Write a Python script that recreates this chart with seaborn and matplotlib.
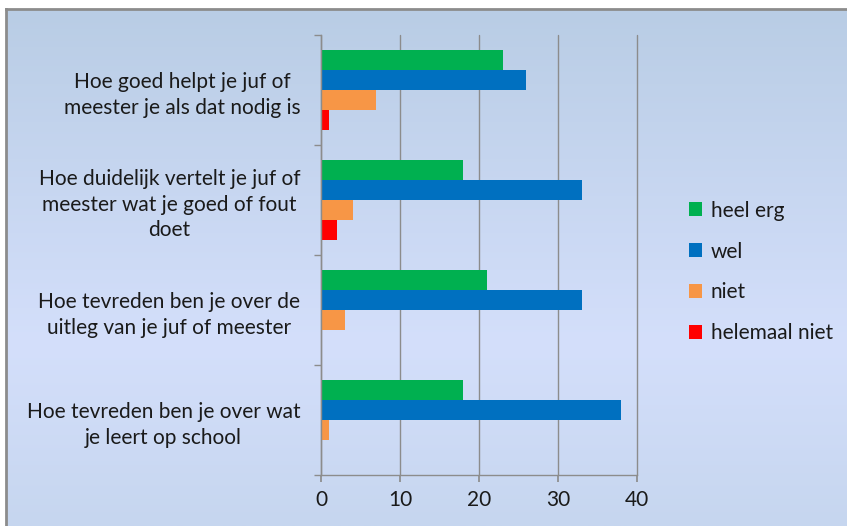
import numpy as np
import pandas as pd
import seaborn as sns
import matplotlib.pyplot as plt
from matplotlib.colors import LinearSegmentedColormap

# Survey questions (top to bottom) and answer categories
questions = [
    "Hoe goed helpt je juf of\nmeester je als dat nodig is",
    "Hoe duidelijk vertelt je juf of\nmeester wat je goed of fout\ndoet",
    "Hoe tevreden ben je over de\nuitleg van je juf of meester",
    "Hoe tevreden ben je over wat\nje leert op school",
]
answers = ["heel erg", "wel", "niet", "helemaal niet"]

heel_erg = [23, 18, 21, 18]
wel = [26, 33, 33, 38]
niet = [7, 4, 3, 1]
helemaal_niet = [1, 2, 0, 0]

x_ticks = [0, 10, 20, 30, 40]

colors = {"heel erg": "#00B050", "wel": "#0070C0", "niet": "#F79646", "helemaal niet": "#FF0000"}

rows = []
for vals, ans in zip([heel_erg, wel, niet, helemaal_niet], answers):
    for q, v in zip(questions, vals):
        rows.append({"vraag": q, "antwoord": ans, "aantal": v})
df = pd.DataFrame(rows)

sns.set_theme(style="white")
plt.rcParams['font.family'] = ['Lato', 'DejaVu Sans']

W, H = 847, 526
fig = plt.figure(figsize=(W / 100, H / 100), dpi=100)

# chart background with vertical gradient and gray border (top/left)
bg = fig.add_axes([6 / W, 0, 1 - 6 / W, 1 - 9 / H], zorder=0)
cmap = LinearSegmentedColormap.from_list(
    "bg", [(0, "#B9CDE5"), (0.65, "#D4DFFB"), (1.0, "#C6D6EF")])
grad = np.linspace(0, 1, 256).reshape(-1, 1)
bg.imshow(grad, aspect="auto", cmap=cmap, extent=[0, 1, 0, 1], origin="upper")
bg.set_xlim(0, 1)
bg.set_ylim(0, 1)
bg.set_xticks([])
bg.set_yticks([])
for side in ["right", "bottom"]:
    bg.spines[side].set_visible(False)
for side in ["top", "left"]:
    bg.spines[side].set_color("#8C8C8C")
    bg.spines[side].set_linewidth(2)

ax = fig.add_axes([321 / W, 1 - 475 / H, (637 - 321) / W, (475 - 35) / H], zorder=1)
ax.patch.set_alpha(0)

sns.barplot(data=df, y="vraag", x="aantal", hue="antwoord", hue_order=answers,
            order=questions, palette=colors, orient="h", width=0.73,
            saturation=1, linewidth=0, ax=ax, legend=True)

ax.set_xlim(0, 40)
ax.set_ylim(3.5, -0.5)
ax.set_xticks(x_ticks)
ax.set_xticklabels([str(t) for t in x_ticks], fontsize=15, color="#1a1a1a")
ax.xaxis.grid(True, color="#8C8C8C", linewidth=1)
for gl in ax.get_xgridlines():
    gl.set_clip_on(False)
ax.set_axisbelow(True)
ax.tick_params(axis="x", length=5, color="#8C8C8C", direction="out", pad=6, bottom=True)

ax.set_yticks(range(len(questions)))
ax.set_yticklabels(questions, fontsize=15, color="#1a1a1a", ha="right", ma="center",
                   linespacing=1.35)
ax.tick_params(axis="y", which="major", length=0, pad=15)
ax.set_yticks([-0.5, 0.5, 1.5, 2.5, 3.5], minor=True)
ax.tick_params(axis="y", which="minor", length=5, color="#8C8C8C", direction="out", left=True)

ax.set_xlabel("")
ax.set_ylabel("")
for side in ["top", "right"]:
    ax.spines[side].set_visible(False)
for side in ["left", "bottom"]:
    ax.spines[side].set_color("#8C8C8C")
    ax.spines[side].set_linewidth(1)

handles, labels = ax.get_legend_handles_labels()
ax.legend(handles, labels, loc="center left", bbox_to_anchor=(670 / W, 1 - 272 / H),
          bbox_transform=fig.transFigure, frameon=False, fontsize=15,
          handlelength=0.65, handleheight=0.65, handletextpad=0.4, labelspacing=1.0,
          labelcolor="#1a1a1a")

fig.savefig("out.png", dpi=100)
